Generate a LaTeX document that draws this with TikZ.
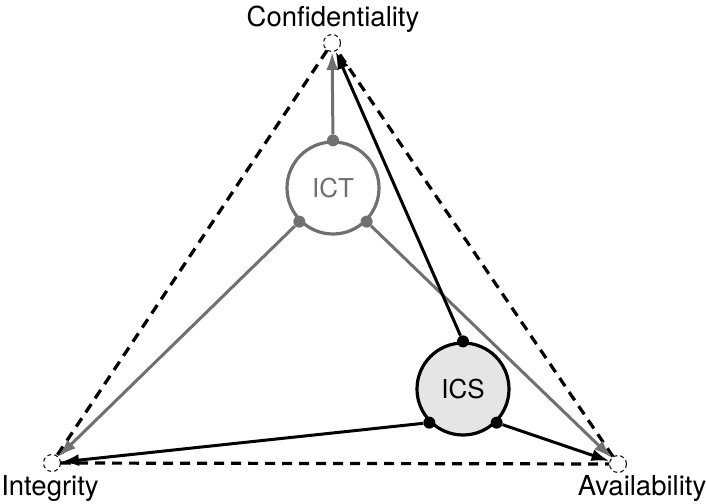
\documentclass[tikz,border=0pt]{standalone}
\usepackage{fontspec}
\setmainfont{TeX Gyre Heros}
\usetikzlibrary{arrows.meta}
\definecolor{IctGray}{RGB}{112,112,112}
\definecolor{IcsFill}{RGB}{229,229,229}

\begin{document}
\begin{tikzpicture}[x=1pt,y=1pt,>={Latex[length=18pt,width=12pt]},
    corner/.style={circle,draw,line width=1pt,dash pattern=on 4pt off 3pt,minimum size=17pt,inner sep=0pt},
    goalname/.style={font=\fontsize{27.5}{30}\selectfont,anchor=base},
    system/.style={circle,draw,line width=3.2pt,minimum size=92pt,inner sep=0pt,font=\fontsize{26}{28}\selectfont},
    joint/.style={circle,fill,inner sep=0pt,minimum size=12pt},
    link/.style={->,line width=3pt}]
      \useasboundingbox (0,0) rectangle (706,503);
      % triad corners
      \node[corner] (C) at (332,460) {};
      \node[corner] (I) at (52,40) {};
      \node[corner] (A) at (618,39) {};
      \node[goalname] (Cname) at (333,476) {Confidentiality};
      \node[goalname] (Iname) at (50,8) {Integrity};
      \node[goalname] (Aname) at (642,8) {Availability};
      \draw[line width=3.2pt,dash pattern=on 10pt off 7pt] (C) -- (I) -- (A) -- (C);
      % ICT
      \node[system,IctGray,text=IctGray] (ICT) at (333,315) {ICT};
      \node[joint,IctGray] (ictC) at (ICT.90) {};
      \node[joint,IctGray] (ictI) at (ICT.225) {};
      \node[joint,IctGray] (ictA) at (ICT.315) {};
      \draw[link,IctGray] (ictC) -- (C);
      \draw[link,IctGray] (ictI) -- (I);
      \draw[link,IctGray] (ictA) -- (A);
      % ICS
      \node[system,fill=IcsFill] (ICS) at (463,114) {ICS};
      \node[joint] (icsC) at (ICS.90) {};
      \node[joint] (icsI) at (ICS.225) {};
      \node[joint] (icsA) at (ICS.315) {};
      \draw[link] (icsC) -- (C);
      \draw[link] (icsI) -- (I);
      \draw[link] (icsA) -- (A);
\end{tikzpicture}
\end{document}
